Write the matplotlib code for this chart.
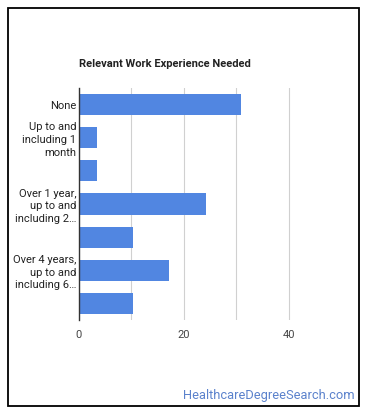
import numpy as np
import matplotlib
matplotlib.use("Agg")
import matplotlib.pyplot as plt
from matplotlib.patches import Rectangle

plt.rcParams['font.family'] = ['Roboto', 'DejaVu Sans']

# labels as shown in the chart (Google charts skips every other one)
labels = ["None", "Up to and\nincluding 1\nmonth", "", "Over 1 year,\nup to and\nincluding 2\u2026",
          "", "Over 4 years,\nup to and\nincluding 6\u2026", ""]
values = [31.0, 3.4, 3.4, 24.2, 10.4, 17.2, 10.4]
xticks = [0, 20, 40]

fig = plt.figure(figsize=(3.7, 4.17), dpi=100)
ax = fig.add_axes([79/370, 97/417, 262/370, 232/417])

y = np.arange(len(values))
ax.barh(y, values, height=0.64, color='#5186e1', zorder=3)
ax.set_ylim(len(values) - 0.5, -0.5)
ax.set_xlim(0, 50)

ax.set_yticks(y)
ax.set_yticklabels(labels, fontsize=8, color='#222222', linespacing=1.35)
ax.set_xticks(xticks)
ax.set_xticklabels([str(t) for t in xticks], fontsize=8, color='#444444')
ax.set_xticks([10, 20, 30, 40], minor=True)
ax.grid(axis='x', which='both', color='#d0d0d0', lw=0.8, zorder=0)
ax.tick_params(which='both', length=0, pad=2)
ax.tick_params(axis='x', pad=7)

for s in ['top', 'right', 'bottom']:
    ax.spines[s].set_visible(False)
ax.spines['left'].set_color('#333333')
ax.spines['left'].set_linewidth(1)
ax.spines['left'].set_zorder(4)

fig.text(79/370, 1 - 64/417, "Relevant Work Experience Needed", fontsize=8,
         fontweight='bold', color='#222222', ha='left', va='center')
fig.text(355/370, 1 - 395/417, "HealthcareDegreeSearch.com", fontsize=9.3,
         color='#5b82cc', ha='right', va='center')

fig.patches.append(Rectangle((8/370, 11/417), 351/370, 398/417, transform=fig.transFigure,
                             fill=False, edgecolor='black', lw=1.3))

fig.savefig("out.png", dpi=100)
